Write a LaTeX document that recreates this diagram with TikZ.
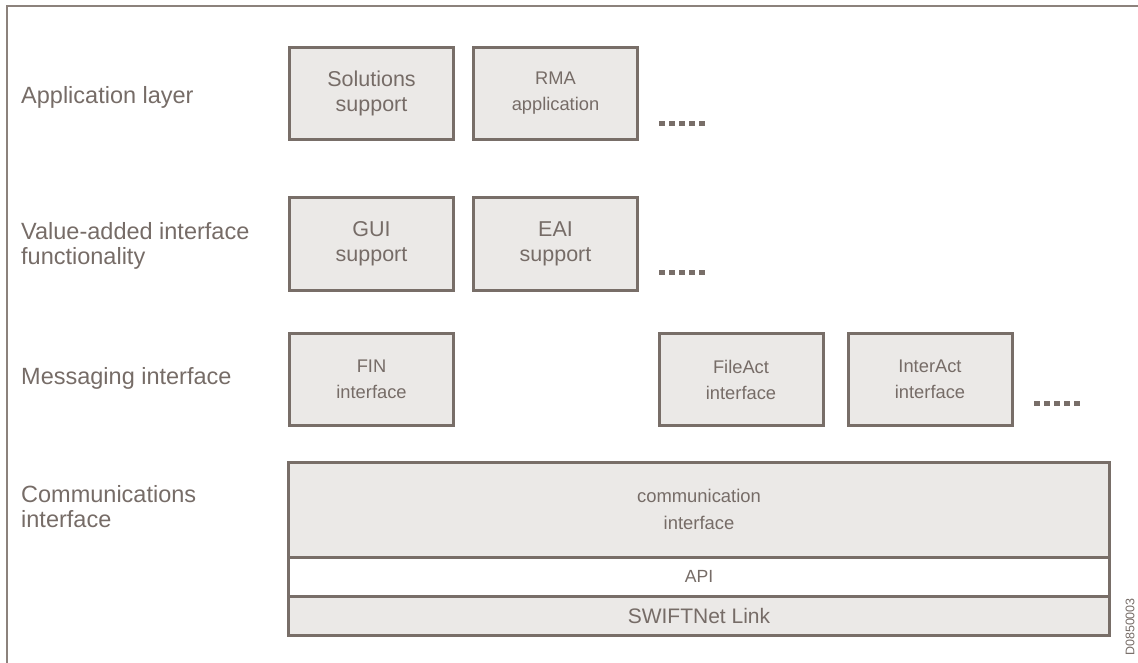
\documentclass[tikz,border=0pt]{standalone}
\usepackage{fontspec}
\setmainfont{Liberation Sans}
\definecolor{bordc}{RGB}{120,110,104}
\definecolor{framec}{RGB}{140,130,124}
\definecolor{fillc}{RGB}{235,233,231}
\definecolor{textc}{RGB}{118,108,103}
\tikzset{
  layerlabel/.style={anchor=west, inner sep=0pt, align=left, text=textc,
    font=\fontsize{23.5}{25}\selectfont},
  compbox/.style={draw=bordc, fill=fillc, line width=3pt, minimum width=164pt,
    minimum height=92pt, inner sep=0pt, align=center, text=textc},
  bigtxt/.style={font=\fontsize{21.5}{25}\selectfont},
  smalltxt/.style={font=\fontsize{18.3}{26}\selectfont},
  stackbox/.style={draw=bordc, line width=3pt, minimum width=821pt, inner sep=0pt,
    align=center, text=textc},
  dotsq/.style={fill=bordc, draw=none}
}
\begin{document}
\begin{tikzpicture}[x=1pt, y=-1pt]
\useasboundingbox (0,0) rectangle (1138,663);
\begin{scope}
\clip (0,0) rectangle (1138,663);
\draw[framec, line width=2pt] (7,6) rectangle (1150,680);
\end{scope}

% layer labels
\node[layerlabel] (lapp) at (21,97) {Application layer};
\node[layerlabel] (lval) at (21,245.5) {Value-added interface\\functionality};
\node[layerlabel] (lmsg) at (21,378) {Messaging interface};
\node[layerlabel] (lcom) at (21,506.5) {Communications\\interface};

% application layer
\node[compbox, bigtxt] (sol) at (371.5,93.5) {Solutions\\support};
\node[compbox, smalltxt] (rma) at (555.5,93.5) {RMA\\application};
% value-added
\node[compbox, bigtxt] (gui) at (371.5,244) {GUI\\support};
\node[compbox, bigtxt] (eai) at (555.5,244) {EAI\\support};
% messaging
\node[compbox, smalltxt] (fin) at (371.5,379.5) {FIN\\interface};
\node[compbox, smalltxt] (fa) at (741,379.5) {FileAct\\interface};
\node[compbox, smalltxt] (ia) at (930,379.5) {InterAct\\interface};

% dots
\foreach \x in {659,669,679,689,699}{
  \fill[bordc] (\x,121.5) rectangle ++(6,5);
  \fill[bordc] (\x,269.5) rectangle ++(6,5);
}
\foreach \x in {1034,1044,1054,1064,1074}{
  \fill[bordc] (\x,400.5) rectangle ++(6,5);
}

% communication stack
\node[stackbox, fill=fillc, minimum height=95pt, font=\fontsize{18.4}{27}\selectfont]
  (com) at (699,509.5) {communication\\interface};
\node[stackbox, fill=white, minimum height=39pt, font=\fontsize{17.6}{20}\selectfont]
  (api) at (699,576.5) {API};
\node[stackbox, fill=fillc, minimum height=39pt, font=\fontsize{21}{24}\selectfont]
  (swl) at (699,615.5) {SWIFTNet Link};

\node[rotate=90, text=textc, inner sep=0pt, font=\fontsize{12.5}{14}\selectfont]
  (code) at (1130,627) {D0850003};
\end{tikzpicture}
\end{document}
